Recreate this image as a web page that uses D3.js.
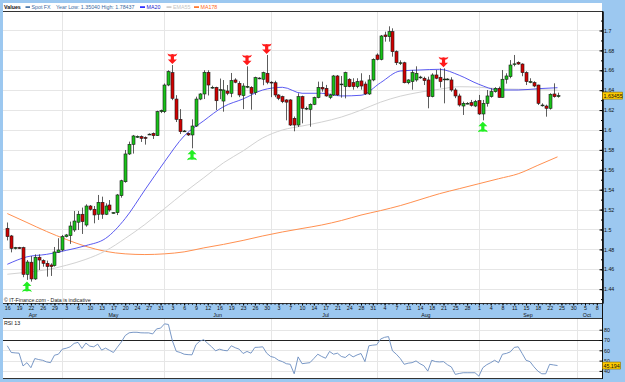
<!DOCTYPE html>
<html>
<head>
<meta charset="utf-8">
<script src="https://cdn.jsdelivr.net/npm/d3@7"></script>
<style>
body { margin: 0; background: #9cc8f0; }
svg { display: block; font-family: "Liberation Sans", Arial, sans-serif; }
</style>
</head>
<body>
<svg id="chart"></svg>
<script>
// daily bars, Apr 16 -> Sep 24
var opens = [1.5012,1.4935,1.481,1.4817,1.4817,1.4549,1.4671,1.4503,1.4721,1.4687,1.466,1.4643,1.4636,1.4771,1.4794,1.4928,1.4938,1.4995,1.5073,1.5153,
  1.5045,1.5236,1.5203,1.5153,1.5273,1.5153,1.5246,1.5169,1.5169,1.534,1.548,1.5759,1.5856,1.5933,1.5933,1.5925,1.5956,1.5966,1.5943,1.6185,
  1.6184,1.6452,1.6576,1.6311,1.6107,1.599,1.5966,1.595,1.604,1.6311,1.6362,1.658,1.6429,1.6429,1.640,1.6291,1.6392,1.6369,1.6503,1.6469,
  1.6345,1.6435,1.6429,1.6375,1.652,1.651,1.657,1.648,1.6475,1.6352,1.6335,1.6302,1.6302,1.6117,1.605,1.6335,1.6218,1.6208,1.6258,1.6325,
  1.6429,1.6419,1.6328,1.6352,1.6543,1.646,1.6436,1.651,1.6476,1.6436,1.6493,1.6462,1.6362,1.6503,1.6754,1.671,1.6955,1.6938,1.6988,1.6787,
  1.6676,1.6676,1.6475,1.6486,1.6503,1.653,1.652,1.6503,1.6335,1.6553,1.653,1.651,1.651,1.6503,1.6402,1.6342,1.6241,1.6268,1.6275,1.6241,
  1.6295,1.6161,1.6268,1.6335,1.6385,1.6419,1.6328,1.651,1.6536,1.6663,1.668,1.6663,1.6576,1.6486,1.6476,1.6452,1.6251,1.6241,1.6218,1.6362,
  1.6335];
var highs = [1.507,1.4945,1.4825,1.4825,1.4827,1.4693,1.4733,1.475,1.475,1.470,1.4687,1.466,1.4824,1.4912,1.4945,1.4955,1.5079,1.5186,1.5186,1.522,
  1.5253,1.5246,1.5236,1.5347,1.533,1.5263,1.5296,1.5175,1.5357,1.55,1.5799,1.5883,1.595,1.5945,1.5945,1.5935,1.5966,1.5975,1.6194,1.6205,
  1.6467,1.660,1.6653,1.635,1.621,1.600,1.5975,1.6107,1.6335,1.637,1.660,1.660,1.6445,1.6435,1.6517,1.6502,1.6452,1.6573,1.652,1.649,
  1.647,1.664,1.644,1.6536,1.653,1.6586,1.6754,1.649,1.6495,1.636,1.6345,1.631,1.631,1.6135,1.6369,1.6345,1.6235,1.6268,1.6335,1.6486,
  1.6486,1.6453,1.6365,1.6553,1.6553,1.6543,1.6586,1.652,1.652,1.652,1.657,1.6486,1.6553,1.672,1.677,1.6955,1.6988,1.7042,1.7022,1.680,
  1.670,1.6686,1.651,1.6603,1.664,1.6545,1.6536,1.6536,1.657,1.6603,1.662,1.662,1.652,1.653,1.642,1.6365,1.6285,1.628,1.6302,1.6302,
  1.6352,1.6302,1.6402,1.6419,1.643,1.6436,1.6603,1.657,1.6703,1.6754,1.669,1.667,1.659,1.652,1.649,1.6455,1.6268,1.6255,1.6369,1.6469,
  1.6375];
var lows = [1.489,1.477,1.480,1.4805,1.452,1.4493,1.4476,1.4493,1.4593,1.4626,1.4526,1.4533,1.4627,1.4765,1.478,1.492,1.4855,1.4975,1.4995,1.4955,
  1.5028,1.519,1.5062,1.5096,1.5107,1.5145,1.5179,1.516,1.5145,1.532,1.547,1.5749,1.5763,1.592,1.588,1.5853,1.595,1.591,1.594,1.617,
  1.617,1.644,1.630,1.608,1.596,1.598,1.594,1.5816,1.603,1.630,1.6311,1.6347,1.6415,1.6201,1.631,1.6184,1.635,1.633,1.647,1.633,
  1.621,1.642,1.6204,1.6352,1.651,1.645,1.646,1.633,1.633,1.630,1.627,1.6097,1.604,1.5987,1.603,1.6067,1.620,1.6033,1.625,1.6318,
  1.6385,1.6335,1.631,1.6342,1.6342,1.6325,1.6318,1.643,1.6405,1.642,1.6405,1.6352,1.6352,1.649,1.670,1.670,1.6888,1.6888,1.6737,1.6653,
  1.6653,1.6469,1.646,1.6405,1.6486,1.6515,1.6452,1.6218,1.6328,1.651,1.6426,1.6268,1.650,1.6385,1.632,1.6235,1.6151,1.6258,1.6235,1.623,
  1.6151,1.6097,1.6235,1.6325,1.6375,1.6325,1.6325,1.6466,1.652,1.664,1.6655,1.654,1.6452,1.647,1.643,1.6251,1.6235,1.6134,1.6205,1.6325,
  1.6325];
var closes = [1.4928,1.481,1.4817,1.4815,1.4549,1.4673,1.4503,1.4721,1.4693,1.466,1.4627,1.4627,1.4774,1.4794,1.4928,1.4945,1.5035,1.5085,1.5153,1.5079,
  1.5236,1.5203,1.5146,1.5273,1.5153,1.5236,1.5196,1.5169,1.5347,1.549,1.5759,1.5856,1.594,1.5935,1.5916,1.5915,1.5958,1.5943,1.6184,1.6195,
  1.6452,1.6586,1.6318,1.6107,1.5983,1.599,1.595,1.604,1.6311,1.6362,1.658,1.6452,1.6429,1.6294,1.6405,1.6402,1.6369,1.6496,1.648,1.6352,
  1.6442,1.6438,1.6369,1.6526,1.6522,1.6576,1.648,1.6475,1.6352,1.6318,1.6285,1.628,1.605,1.605,1.6335,1.6218,1.6218,1.6258,1.6325,1.6429,
  1.6412,1.6342,1.6352,1.6543,1.6352,1.6462,1.6576,1.6436,1.6436,1.6486,1.6442,1.6362,1.6503,1.671,1.671,1.6945,1.6938,1.6988,1.6787,1.6676,
  1.6676,1.6475,1.6503,1.6576,1.657,1.6532,1.6496,1.6335,1.6553,1.652,1.6486,1.6512,1.6512,1.6402,1.6342,1.6251,1.6268,1.6268,1.6248,1.6285,
  1.6161,1.6268,1.6342,1.6385,1.6419,1.6328,1.651,1.6543,1.6653,1.6665,1.6663,1.6576,1.6486,1.6486,1.6442,1.6268,1.6251,1.6218,1.6359,1.6335,
  1.63455];

// overlays read every 5 bars
var maBars = [0,5,10,15,20,25,30,35,40,45,50,55,60,65,70,75,80,85,90,95,100,105,110,115,120,125,130,135,140];
var ma20 = [1.465,1.4725,1.475,1.479,1.4838,1.491,1.511,1.5397,1.568,1.594,1.6093,1.6234,1.6312,1.6402,1.6429,1.6369,1.6369,1.6342,1.6349,1.6476,1.6593,1.6603,1.661,1.655,1.6459,1.6402,1.6402,1.6415,1.6425];
var ema55 = [1.455,1.457,1.4595,1.464,1.470,1.4785,1.491,1.505,1.521,1.537,1.552,1.567,1.579,1.592,1.600,1.604,1.608,1.613,1.620,1.628,1.634,1.638,1.641,1.6435,1.643,1.6415,1.641,1.6405,1.640];
var ma178 = [1.516,1.507,1.498,1.490,1.483,1.478,1.4755,1.4748,1.4755,1.4775,1.4815,1.485,1.489,1.4935,1.4975,1.501,1.5045,1.509,1.5145,1.519,1.524,1.530,1.536,1.541,1.546,1.551,1.556,1.5645,1.573];

var rsi = [64.4,57.9,57.5,57.2,44.8,48,43.1,52,51,50.3,48.7,48,55.2,56.2,61.1,62,63.4,66.7,67.7,61.8,
  67,64,63.4,66,60.2,62.1,60,57.9,63,68,74.3,77,77.5,77.5,77,76.9,76.9,75.9,80.8,81.5,
  85.7,85.1,69.3,59,57.9,56.2,55.8,55.6,65.4,69,70.3,66.7,63.4,59.5,61.1,60,59.5,64.4,62.5,61.1,
  56.9,58.9,57.2,62.8,63,63.4,57.2,54,53,50.3,49,47,46.4,37.2,53.6,47,47.5,48,52,56.2,
  54,52.3,58.9,56.2,57.2,54,53,56.2,53.6,55.5,56.9,49,64.4,65,65.4,71,72.6,73.3,59.5,56.2,
  52,46.4,47.5,48,49.7,47,45,39.8,50.3,49,48.7,49,46,43.8,36.6,37.5,38.2,38.2,38.2,38.2,
  34.9,43.1,46,48,50.3,48,56.2,57,58.5,62.8,63.4,57,50.3,49,44,39.8,37.2,37.2,46.4,45.8,
  45.194];

var upSignals = [5, 47, 121];
var downSignals = [42, 61, 66, 111];

var priceTicks = [1.44,1.46,1.48,1.5,1.52,1.54,1.56,1.58,1.6,1.62,1.64,1.66,1.68,1.7];
var rsiTicks = [40,50,60,70,80];
var dayLabels = ["16","19","22","26","29","3","6","10","13","17","20","24","27","31","3","6","9","12","16","19","23","26","30",
  "3","7","10","14","17","21","24","28","31","4","7","11","14","18","21","25","28","1","4","8","11","15","18","22","25","30","5","8"];
var months = ["Apr","May","Jun","Jul","Aug","Sep","Oct"];
var monthMid = [6.5,27,53.5,81,106.5,132.5,147.5];
var monthStart = [14,40,67,94,120,145];

var width = 625;
var height = 382;
var left = 3, right = 602;

var svg = d3.select("#chart")
    .attr("width", width)
    .attr("height", height);

var x = d3.scaleLinear().domain([0, 150]).range([7.3, 596.8]);
var y = d3.scaleLinear().domain([1.4261, 1.7196]).range([303, 11]);
var yr = d3.scaleLinear().domain([33.1, 90.4]).range([378, 319]);

// panels
svg.append("rect").attr("width", width).attr("height", height).attr("fill", "#9cc8f0");
svg.append("rect").attr("x", left).attr("y", 3).attr("width", right - left).attr("height", 300).attr("fill", "#fff");
svg.append("rect").attr("x", left).attr("y", 318.5).attr("width", right - left).attr("height", 59.5).attr("fill", "#fff");

// grid
var grid = svg.append("g").attr("stroke", "#e6e6e6").attr("stroke-width", 1);
grid.selectAll(".hg").data(priceTicks).enter().append("line")
    .attr("x1", left).attr("x2", right)
    .attr("y1", function (d) { return Math.round(y(d)) + 0.5; })
    .attr("y2", function (d) { return Math.round(y(d)) + 0.5; });
grid.selectAll(".vg").data(monthStart).enter().append("line")
    .attr("x1", function (d) { return Math.round(x(d)) + 0.5; })
    .attr("x2", function (d) { return Math.round(x(d)) + 0.5; })
    .attr("y1", 11).attr("y2", 303);
grid.selectAll(".rg").data([40, 50, 60, 80]).enter().append("line")
    .attr("x1", left).attr("x2", right)
    .attr("y1", function (d) { return Math.round(yr(d)) + 0.5; })
    .attr("y2", function (d) { return Math.round(yr(d)) + 0.5; });
grid.selectAll(".rv").data(monthStart).enter().append("line")
    .attr("x1", function (d) { return Math.round(x(d)) + 0.5; })
    .attr("x2", function (d) { return Math.round(x(d)) + 0.5; })
    .attr("y1", 319).attr("y2", 378);

// moving averages
var maLine = function (vals) {
    return d3.line()
        .x(function (d, i) { return x(maBars[i]); })
        .y(function (d) { return y(d); })
        .curve(d3.curveMonotoneX)(vals);
};
svg.append("path").attr("d", maLine(ma178)).attr("fill", "none").attr("stroke", "#ff9050").attr("stroke-width", 1);
svg.append("path").attr("d", maLine(ema55)).attr("fill", "none").attr("stroke", "#d2d2d2").attr("stroke-width", 1);
svg.append("path").attr("d", maLine(ma20)).attr("fill", "none").attr("stroke", "#4848ee").attr("stroke-width", 0.9);

// candles
var idx = d3.range(opens.length);
var candles = svg.append("g");
candles.selectAll(".wick").data(idx).enter().append("line")
    .attr("x1", function (i) { return Math.round(x(i)) + 0.5; })
    .attr("x2", function (i) { return Math.round(x(i)) + 0.5; })
    .attr("y1", function (i) { return y(highs[i]); })
    .attr("y2", function (i) { return y(lows[i]); })
    .attr("stroke", "#333").attr("stroke-width", 0.8);
candles.selectAll(".body").data(idx).enter().append("rect")
    .attr("x", function (i) { return Math.round(x(i)) - 1; })
    .attr("width", 3)
    .attr("y", function (i) { return y(Math.max(opens[i], closes[i])); })
    .attr("height", function (i) { return Math.max(0.8, Math.abs(y(opens[i]) - y(closes[i]))); })
    .attr("fill", function (i) { return closes[i] >= opens[i] ? "#19c219" : "#d00000"; })
    .attr("stroke", "#1a1a1a").attr("stroke-width", 0.6);

// signal arrows
var downArrow = "M0,0 L-4.5,-4.5 L-1.6,-4.5 L-1.6,-7.5 Q-4.5,-8 -5,-10.5 Q-2.5,-9 0,-10 Q2.5,-9 5,-10.5 Q4.5,-8 1.6,-7.5 L1.6,-4.5 L4.5,-4.5 Z";
svg.selectAll(".dn").data(downSignals).enter().append("path")
    .attr("d", downArrow)
    .attr("transform", function (i) { return "translate(" + x(i) + "," + (y(highs[i]) - 1) + ")"; })
    .attr("fill", "#ff1a1a");
svg.selectAll(".up").data(upSignals).enter().append("path")
    .attr("d", downArrow)
    .attr("transform", function (i) { return "translate(" + x(i) + "," + (y(lows[i]) + 1.5) + ") scale(1,-1)"; })
    .attr("fill", "#22ee22");

// frame lines
svg.append("line").attr("x1", left).attr("x2", right).attr("y1", 11.5).attr("y2", 11.5).attr("stroke", "#333");
svg.append("line").attr("x1", left).attr("x2", right).attr("y1", 303.5).attr("y2", 303.5).attr("stroke", "#333");
svg.append("line").attr("x1", left).attr("x2", right).attr("y1", 318.5).attr("y2", 318.5).attr("stroke", "#333");
svg.append("line").attr("x1", left).attr("x2", right).attr("y1", 378.5).attr("y2", 378.5).attr("stroke", "#333");

// price axis
var yAxis = svg.append("g").attr("transform", "translate(602.5,0)")
    .call(d3.axisRight(y).tickValues(priceTicks).tickSize(-3).tickSizeOuter(0).tickPadding(1.5)
        .tickFormat(function (d) { return String(+d.toFixed(2)); }));
svg.append("g").attr("transform", "translate(602.5,0)")
    .call(d3.axisRight(y).ticks(30).tickSize(-1.5).tickSizeOuter(0).tickFormat(""));
svg.selectAll(".tick text").attr("font-size", "5.3px").attr("fill", "#111").attr("font-family", "Liberation Sans, Arial");
svg.append("line").attr("x1", 602.5).attr("x2", 602.5).attr("y1", 11).attr("y2", 379).attr("stroke", "#111");

// last price box
var last = closes[closes.length - 1];
svg.append("rect").attr("x", 602.5).attr("y", y(last) - 3.5).attr("width", 20).attr("height", 7)
    .attr("fill", "#ffcc00").attr("stroke", "#8a6d00").attr("stroke-width", 0.6);
svg.append("text").attr("x", 603.5).attr("y", y(last) + 2).attr("font-size", "5.3px").attr("fill", "#111").text(last.toFixed(5));

// time axis
var xAxis = svg.append("g").attr("transform", "translate(0,303.5)")
    .call(d3.axisBottom(x).tickValues(d3.range(0, 151, 3)).tickSize(2).tickSizeOuter(0).tickPadding(1)
        .tickFormat(function (d, i) { return dayLabels[i]; }));
xAxis.select(".domain").remove();
xAxis.selectAll("text").attr("font-size", "5.3px").attr("fill", "#111");
svg.append("g").attr("transform", "translate(0,303.5)")
    .call(d3.axisBottom(x).tickValues(d3.range(0, 151)).tickSize(1.2).tickFormat(""))
    .select(".domain").remove();
svg.selectAll(".month").data(months).enter().append("text")
    .attr("x", function (d, i) { return x(monthMid[i]); })
    .attr("y", 316.5)
    .attr("text-anchor", "middle").attr("font-size", "5.3px").attr("fill", "#111")
    .text(function (d) { return d; });

// rsi
svg.append("line").attr("x1", left).attr("x2", right)
    .attr("y1", Math.round(yr(70)) + 0.5).attr("y2", Math.round(yr(70)) + 0.5)
    .attr("stroke", "#222").attr("stroke-width", 1);
svg.append("path")
    .attr("d", d3.line().x(function (d, i) { return x(i); }).y(function (d) { return yr(d); })(rsi))
    .attr("fill", "none").attr("stroke", "#6a8cc0").attr("stroke-width", 0.9);
var rAxis = svg.append("g").attr("transform", "translate(602.5,0)")
    .call(d3.axisRight(yr).tickValues(rsiTicks).tickSize(-3).tickSizeOuter(0).tickPadding(1.5));
rAxis.select(".domain").remove();
rAxis.selectAll("text").attr("font-size", "5.3px").attr("fill", "#111");
var lastRsi = rsi[rsi.length - 1];
svg.append("rect").attr("x", 602.5).attr("y", yr(lastRsi) - 3.5).attr("width", 18).attr("height", 7)
    .attr("fill", "#ffcc00").attr("stroke", "#8a6d00").attr("stroke-width", 0.6);
svg.append("text").attr("x", 603.5).attr("y", yr(lastRsi) + 2).attr("font-size", "5.3px").attr("fill", "#111").text(lastRsi.toFixed(3));
svg.append("text").attr("x", 4).attr("y", 325).attr("font-size", "5.3px").attr("fill", "#111").text("RSI 13");

// legend
var lg = svg.append("g").attr("font-size", "5.3px");
lg.append("text").attr("x", 4).attr("y", 9).attr("font-weight", "bold").attr("fill", "#111").text("Values");
var legendItems = [
    { x: 25.5, w: 4.5, color: "#3a6aa0", label: "Spot FX", text: "#3a6aa0" },
    { x: 140, w: 5, color: "#1a1aff", label: "MA20", text: "#1a1acc" },
    { x: 166.5, w: 5, color: "#c8c8c8", label: "EMA55", text: "#c4c4c4" },
    { x: 194, w: 5, color: "#ff6a1a", label: "MA178", text: "#ff6a1a" }
];
legendItems.forEach(function (d) {
    lg.append("rect").attr("x", d.x).attr("y", 6.3).attr("width", d.w).attr("height", 1.6).attr("fill", d.color);
    lg.append("text").attr("x", d.x + d.w + 1.5).attr("y", 9).attr("fill", d.text).text(d.label);
});
lg.append("text").attr("x", 56).attr("y", 9).attr("fill", "#3a6aa0").text("Year Low: 1.35040 High: 1.78437");

svg.append("text").attr("x", 4).attr("y", 301.5).attr("font-size", "5.3px").attr("fill", "#222")
    .text("\u00a9 IT-Finance.com - Data is indicative");
</script>
</body>
</html>
